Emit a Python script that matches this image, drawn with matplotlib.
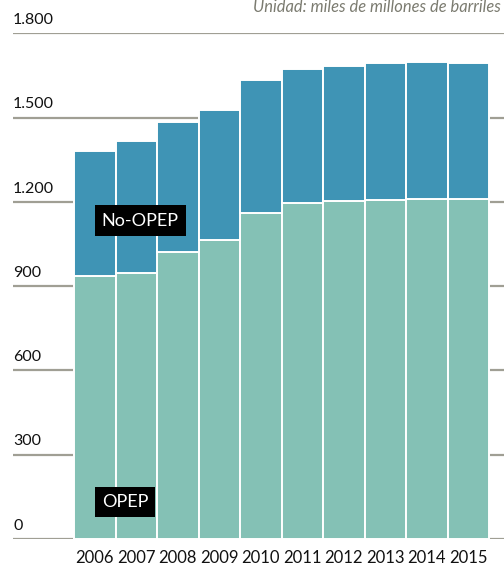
import matplotlib
matplotlib.use("Agg")
import matplotlib.pyplot as plt
import numpy as np

years = ["2006", "2007", "2008", "2009", "2010", "2011", "2012", "2013", "2014", "2015"]
opep = [936, 948, 1022, 1064, 1161, 1196, 1203, 1207, 1211, 1209]
total = [1381, 1415, 1486, 1526, 1633, 1673, 1684, 1693, 1698, 1695]
no_opep = [t - o for t, o in zip(total, opep)]
yticks = [0, 300, 600, 900, 1200, 1500, 1800]
ytick_labels = ["0", "300", "600", "900", "1.200", "1.500", "1.800"]
unit_text = "Unidad: miles de millones de barriles"

C_OPEP = "#84c1b5"
C_NOOPEP = "#3f94b5"
C_GRID = "#a09f94"

plt.rcParams["font.family"] = ["Lato", "DejaVu Sans"]

W, H = 504, 566
fig = plt.figure(figsize=(W / 100, H / 100), dpi=100)
left, right = 13, 504
y0, y1 = 539, 33.3
ax = fig.add_axes([left / W, 1 - y0 / H, (right - left) / W, (y0 - y1) / H])
ax.set_ylim(0, 1800)
bw = 41.5
xl = -0.5 - (74 - left) / bw
xr = 9.5 + (right - 489) / bw
ax.set_xlim(xl, xr)
ax.axis("off")

x = np.arange(len(years))
for v, lab in zip(yticks, ytick_labels):
    ax.axhline(v, color=C_GRID, lw=1.6, zorder=0)
    ax.annotate(lab, xy=(0, v), xycoords=("axes fraction", "data"),
                xytext=(0, 4.5), textcoords="offset points", ha="left", va="bottom",
                fontsize=11.5, color="#111111")

ax.bar(x, opep, width=1.0, color=C_OPEP, edgecolor="white", linewidth=1.4, zorder=2)
ax.bar(x, no_opep, bottom=opep, width=1.0, color=C_NOOPEP, edgecolor="white", linewidth=1.4, zorder=2)

for xi, lab in zip(x, years):
    ax.annotate(lab, xy=(xi, 0), xycoords="data", xytext=(0, -14),
                textcoords="offset points", ha="center", va="center",
                fontsize=12, color="#111111", annotation_clip=False)

box = dict(boxstyle="square,pad=0.4", fc="black", ec="none")
ax.text(0.17, 1133, "No-OPEP", color="white", fontsize=13, ha="left", va="center",
        bbox=box, zorder=5)
ax.text(0.17, 132, "OPEP", color="white", fontsize=13, ha="left", va="center",
        bbox=box, zorder=5)

fig.text(501 / W, 1 - 7 / H, unit_text, ha="right", va="center", fontsize=11.9,
         style="italic", color="#7b7b70")

fig.savefig("out.png", dpi=100)
